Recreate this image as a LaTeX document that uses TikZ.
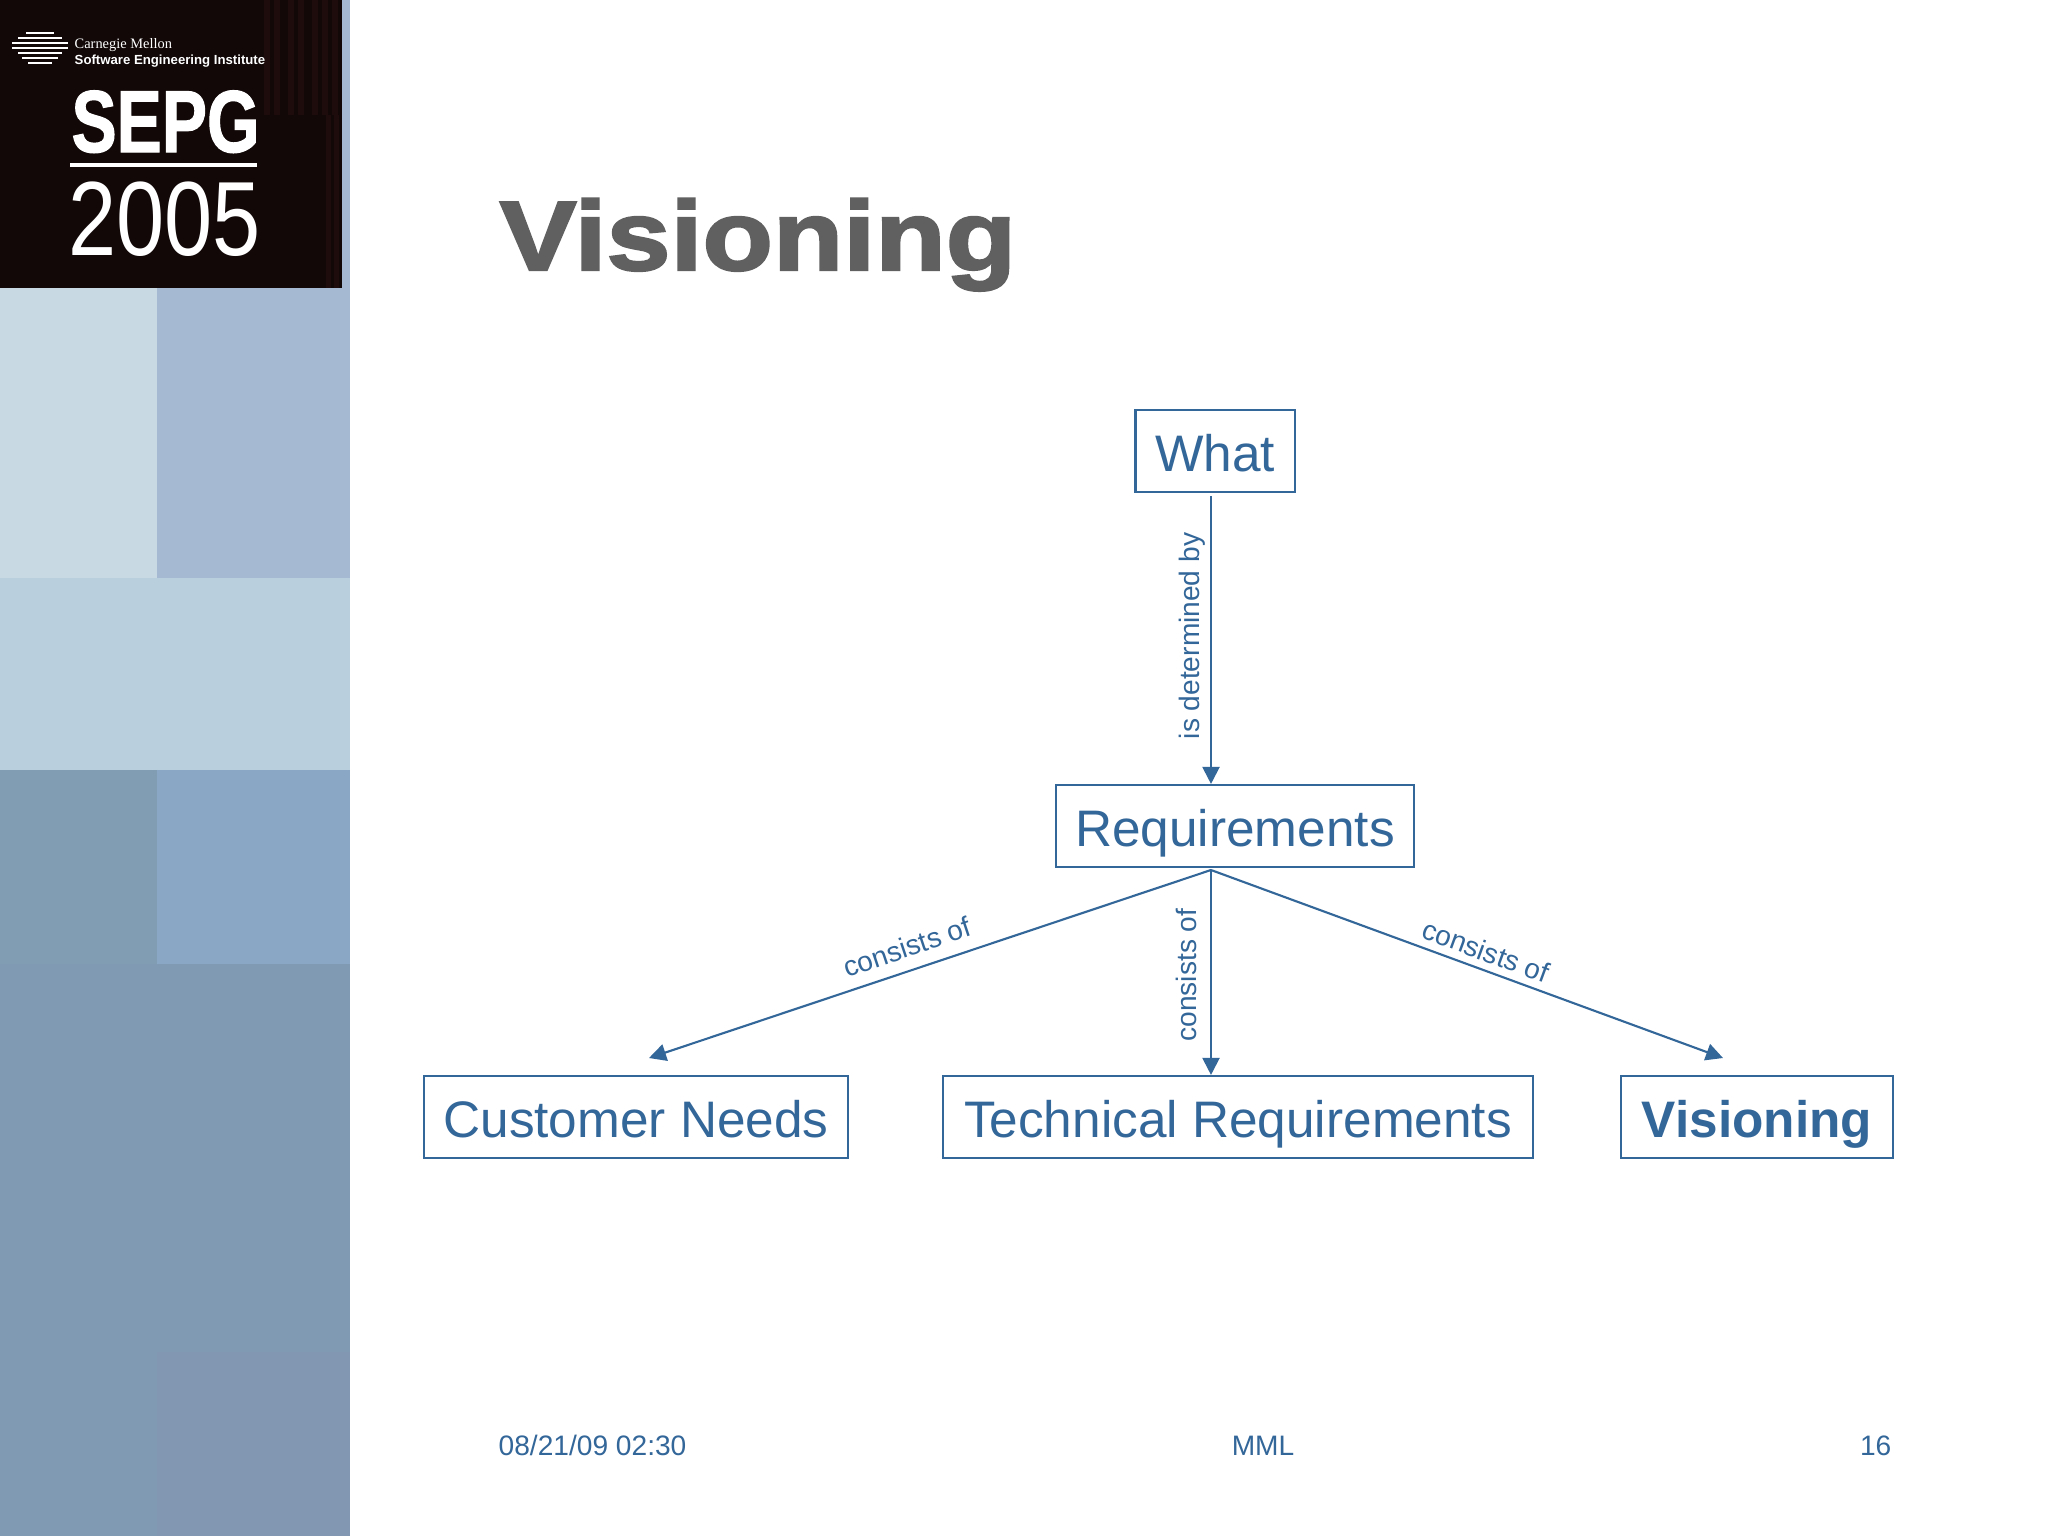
\documentclass[tikz,border=0pt]{standalone}
\usepackage{xcolor}
\usepackage{fontspec}
\setmainfont{Liberation Sans}
\newfontfamily\titlefont[FakeStretch=1.17,FakeBold=2.4]{Liberation Sans Bold}
\newfontfamily\logoserif{Liberation Serif}
\newfontfamily\logobold[FakeBold=1.5]{Liberation Sans Bold}
\usepackage{tikz}
\usetikzlibrary{arrows.meta}
\definecolor{SlideBlue}{HTML}{336699}
\definecolor{TitleGray}{HTML}{606060}
\definecolor{LogoDark}{HTML}{120808}
\definecolor{LogoWood}{HTML}{1E0C0C}
\definecolor{PaleTop}{HTML}{C8D9E4}
\definecolor{SteelTop}{HTML}{A5B9D2}
\definecolor{PaleBand}{HTML}{BACFDD}
\definecolor{SteelMidL}{HTML}{819DB4}
\definecolor{SteelMidR}{HTML}{8AA8C6}
\definecolor{SteelLow}{HTML}{7F9AB2}
\definecolor{SteelCorner}{HTML}{8297B2}
\tikzset{
  boxnode/.style={draw=SlideBlue, line width=.6pt, text=SlideBlue, inner sep=0pt,
    minimum height=.82cm, text height=.56cm, text depth=.15cm,
    font=\fontsize{14.6}{17}\selectfont},
  linklabel/.style={text=SlideBlue, inner sep=0pt, font=\fontsize{8}{10}\selectfont},
  footnode/.style={text=SlideBlue, inner sep=0pt, font=\fontsize{8}{10}\selectfont},
  linkarrow/.style={line width=.6pt, draw=SlideBlue,
    -{Triangle[length=.17cm,width=.17cm,fill=SlideBlue]}},
  logotext/.style={text=white, inner sep=0pt, transform shape}
}
\begin{document}
\begin{tikzpicture}[x=.01cm, y=-.01cm]
  \useasboundingbox (0,0) rectangle (2048,1536);

  \fill[white] (0,0) rectangle (2048,1536);
  \fill[PaleTop] (0,288) rectangle (157,578);
  \fill[SteelTop] (157,288) rectangle (350,578);
  \fill[PaleBand] (0,578) rectangle (350,770);
  \fill[SteelMidL] (0,770) rectangle (157,964);
  \fill[SteelMidR] (157,770) rectangle (350,964);
  \fill[SteelLow] (0,964) rectangle (350,1536);
  \fill[SteelCorner] (157,1352) rectangle (350,1536);

  \fill[SteelTop] (342,0) rectangle (350,288);
  \fill[LogoDark] (0,0) rectangle (342,288);
  \foreach \xpos in {264,274,288,298,312,322,332}
    \fill[LogoWood] (\xpos,0) rectangle (\xpos+6,115);
  \foreach \xpos in {326,334}
    \fill[LogoWood] (\xpos,115) rectangle (\xpos+5,288);
  \foreach \ypos/\half/\wd in {33/14/.5, 38/22/.55, 43/28/.7, 48/28/.8, 53/22/.7, 58/18/.6, 63/12/.5}
    \draw[white, line width=\wd pt] (40-\half,\ypos) -- (40+\half,\ypos);

  \node[logotext, anchor=west, font=\logoserif\fontsize{4.1}{5}\selectfont] (cmu) at (74,45) {Carnegie Mellon};
  \node[logotext, anchor=west, font=\bfseries\fontsize{3.75}{5}\selectfont] (sei) at (74,61) {Software Engineering Institute};
  \node[logotext, anchor=base west, xscale=.77, font=\logobold\fontsize{25}{28}\selectfont] (sepg) at (71,152) {SEPG};
  \draw[white, line width=.9pt] (70,165) -- (257,165);
  \node[logotext, anchor=base west, xscale=.82, font=\fontsize{30}{32}\selectfont] (year) at (68,255) {2005};

  \node[text=TitleGray, inner sep=0pt, anchor=base west, font=\titlefont\fontsize{28}{32}\selectfont] (title) at (499,270) {Visioning};

  \node[boxnode, minimum width=1.59cm] (what) at (1215,451) {What};
  \node[boxnode, minimum width=3.58cm] (req) at (1235,826) {Requirements};
  \node[boxnode, minimum width=4.24cm] (needs) at (636,1117) {Customer Needs};
  \node[boxnode, minimum width=5.9cm] (tech) at (1238,1117) {Technical Requirements};
  \node[boxnode, minimum width=2.72cm, font=\bfseries\fontsize{14.6}{17}\selectfont] (vis) at (1757,1117) {Visioning};

  \coordinate (hub) at (1211,870);
  \coordinate (needsend) at (649,1058);
  \coordinate (visend) at (1723,1058);

  \draw[linkarrow] (what.south -| hub) ++(0,3) -- (req.north -| hub);
  \draw[linkarrow] (hub) -- (needsend);
  \draw[linkarrow] (hub) -- (tech.north -| hub);
  \draw[linkarrow] (hub) -- (visend);

  \node[linklabel, rotate=90] (lbldet) at (1192,636) {is determined by};
  \node[linklabel, rotate=18.5] (lblneeds) at (907,947) {consists of};
  \node[linklabel, rotate=90] (lbltech) at (1186,975) {consists of};
  \node[linklabel, rotate=-20.2] (lblvis) at (1486,951) {consists of};

  \node[footnode, anchor=base west] (date) at (498,1455) {08/21/09 02:30};
  \node[footnode, anchor=base] (mml) at (1263,1455) {MML};
  \node[footnode, anchor=base east] (page) at (1892,1455) {16};
\end{tikzpicture}
\end{document}
